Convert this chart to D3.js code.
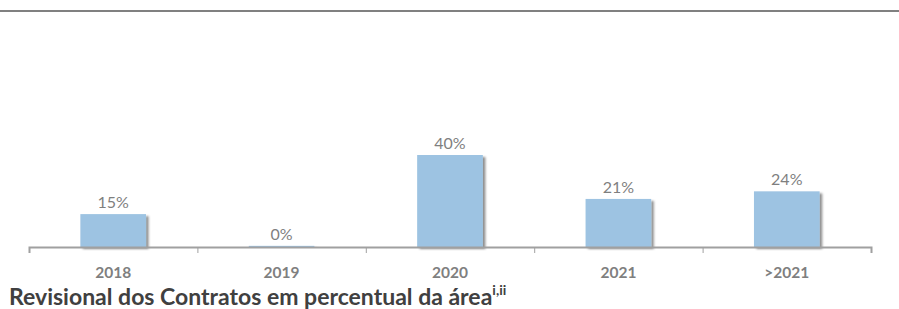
<!DOCTYPE html>
<html><head><meta charset="utf-8">
<script src="https://cdn.jsdelivr.net/npm/d3@7"></script>
<style>
html,body{margin:0;padding:0;background:#fff;}
svg{display:block;}
</style></head>
<body>
<script>
const categories = ["2018", "2019", "2020", "2021", ">2021"];
const values = [14.3, 0.5, 40.0, 20.9, 24.2];
const valueLabels = ["15%", "0%", "40%", "21%", "24%"];
const titleText = "Revisional dos Contratos em percentual da área";
const titleSup = "i,ii";

const W = 899, H = 309;
const svg = d3.select("body").append("svg").attr("width", W).attr("height", H);

const defs = svg.append("defs");
const f = defs.append("filter").attr("id", "sh").attr("x", "-10%").attr("y", "-10%").attr("width", "130%").attr("height", "130%");
f.append("feDropShadow").attr("dx", 2.5).attr("dy", 2).attr("stdDeviation", 1.3)
  .attr("flood-color", "#000").attr("flood-opacity", 0.45);

// top rule
svg.append("line").attr("x1", 0).attr("x2", W).attr("y1", 11).attr("y2", 11)
  .attr("stroke", "#808080").attr("stroke-width", 2);

const x0 = 29, x1 = 871, base = 247;
const x = d3.scaleBand().domain(categories).range([x0, x1]).paddingInner(0.61).paddingOuter(0.305);
const xb = d3.scaleLinear().domain([0, categories.length]).range([x0, x1]);
const y = d3.scaleLinear().domain([0, 40]).range([base, 155]);

// bars
svg.append("g").selectAll("rect").data(values).join("rect")
  .attr("x", (d, i) => x(categories[i]))
  .attr("width", x.bandwidth())
  .attr("y", d => y(d))
  .attr("height", d => base - y(d))
  .attr("fill", "#9dc3e2")
  .attr("filter", "url(#sh)");

// axis
const ax = svg.append("g").attr("transform", `translate(0,${base})`)
  .call(d3.axisBottom(xb).tickValues(d3.range(0, categories.length + 1)).tickSize(6).tickFormat(""));
ax.select(".domain").attr("stroke", "#a0a0a0").attr("stroke-width", 2);
ax.selectAll(".tick line").attr("stroke", "#a0a0a0").attr("stroke-width", 1);

// category labels
svg.append("g").selectAll("text").data(categories).join("text")
  .attr("x", d => x(d) + x.bandwidth() / 2)
  .attr("y", 278)
  .attr("text-anchor", "middle")
  .attr("font-family", "Lato, 'Open Sans', sans-serif")
  .attr("font-weight", "bold")
  .attr("font-size", 15.5)
  .attr("fill", "#7f7f7f")
  .text(d => d);

// value labels
svg.append("g").selectAll("text").data(values).join("text")
  .attr("x", (d, i) => x(categories[i]) + x.bandwidth() / 2)
  .attr("y", d => y(d) - 6)
  .attr("text-anchor", "middle")
  .attr("font-family", "Lato, 'Open Sans', sans-serif")
  .attr("font-size", 16)
  .attr("fill", "#7f7f7f")
  .text((d, i) => valueLabels[i]);

// title
const t = svg.append("text")
  .attr("x", 9).attr("y", 305)
  .attr("font-family", "Lato, 'Open Sans', sans-serif")
  .attr("font-weight", "bold")
  .attr("font-size", 23)
  .attr("fill", "#404040");
t.append("tspan").text(titleText);
t.append("tspan").attr("font-size", 14).attr("dy", -10).text(titleSup);
</script>
</body></html>
